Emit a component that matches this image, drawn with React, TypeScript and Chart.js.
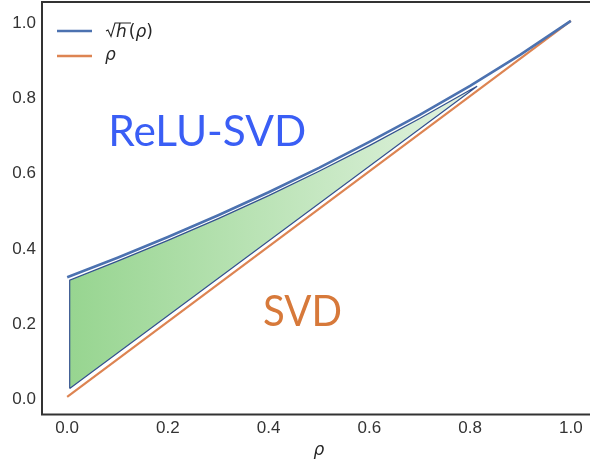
import React, { useEffect, useRef } from 'react';
import { Chart, registerables } from 'chart.js';

Chart.register(...registerables);

// ---- data ----
const rho = [0, 0.1, 0.2, 0.3, 0.4, 0.5, 0.6, 0.7, 0.8, 0.9, 1.0];
const sqrtH = [0.318, 0.370, 0.425, 0.483, 0.544, 0.609, 0.678, 0.750, 0.827, 0.910, 1.0];
const identityX = [0, 1];
const identityY = [0, 1];
const regionX = [0.005, 0.005, 0.1, 0.2, 0.3, 0.4, 0.5, 0.6, 0.7, 0.8, 0.814, 0.005];
const regionY = [0.022, 0.310, 0.361, 0.416, 0.474, 0.535, 0.600, 0.668, 0.740, 0.816, 0.826, 0.022];
const xTicks = [0, 0.2, 0.4, 0.6, 0.8, 1.0];
const yTicks = [0, 0.2, 0.4, 0.6, 0.8, 1.0];

const BLUE = '#4c72b0';
const ORANGE = '#dd8452';
const TEXT = '#262626';
const TICK_FONT = '17px "Liberation Sans"';

const overlay = {
  id: 'overlay',
  afterDraw(chart: any) {
    const { ctx, chartArea: a, scales } = chart;
    const xs = scales.x;
    const ys = scales.y;
    ctx.save();

    // frame
    ctx.strokeStyle = '#333333';
    ctx.lineWidth = 2;
    ctx.strokeRect(a.left, a.top, a.right - a.left, a.bottom - a.top);

    // y tick labels
    ctx.font = TICK_FONT;
    ctx.fillStyle = '#333333';
    ctx.textAlign = 'right';
    ctx.textBaseline = 'middle';
    yTicks.forEach((v) => {
      ctx.fillText(v.toFixed(1), a.left - 6, ys.getPixelForValue(v) + 2.5);
    });
    // x tick labels
    ctx.textAlign = 'center';
    ctx.textBaseline = 'middle';
    xTicks.forEach((v) => {
      ctx.fillText(v.toFixed(1), xs.getPixelForValue(v), a.bottom + 13.5);
    });

    // legend
    ctx.lineWidth = 2.4;
    ctx.strokeStyle = BLUE;
    ctx.beginPath(); ctx.moveTo(57, 31); ctx.lineTo(92, 31); ctx.stroke();
    ctx.strokeStyle = ORANGE;
    ctx.beginPath(); ctx.moveTo(57, 56); ctx.lineTo(92, 56); ctx.stroke();

    ctx.fillStyle = TEXT;
    ctx.strokeStyle = TEXT;
    ctx.textBaseline = 'alphabetic';
    ctx.textAlign = 'left';
    // radical sign
    ctx.lineWidth = 1.1;
    ctx.beginPath();
    ctx.moveTo(106, 31);
    ctx.lineTo(108, 30);
    ctx.lineTo(111, 36.5);
    ctx.lineTo(115, 23);
    ctx.lineTo(131, 23);
    ctx.stroke();
    let x = 116;
    const b1 = 36.5;
    ctx.font = 'italic 17px "DejaVu Sans"';
    ctx.fillText('h', x, b1);
    x += ctx.measureText('h').width + 2;
    ctx.font = '17px "DejaVu Sans"';
    ctx.fillText('(', x, b1);
    x += ctx.measureText('(').width;
    ctx.font = 'italic 17px "DejaVu Sans"';
    ctx.fillText('ρ', x, b1);
    x += ctx.measureText('ρ').width;
    ctx.font = '17px "DejaVu Sans"';
    ctx.fillText(')', x, b1);

    ctx.font = 'italic 17px "DejaVu Sans"';
    ctx.fillText('ρ', 105, 59.5);

    // x axis title
    ctx.textAlign = 'center';
    ctx.fillText('ρ', (a.left + a.right) / 2, 454.5);

    // annotations
    const drawFit = (text: string, dx: number, dy: number, w: number, color: string) => {
      ctx.save();
      ctx.font = '43px Lato';
      ctx.textAlign = 'left';
      ctx.textBaseline = 'alphabetic';
      ctx.fillStyle = color;
      const m = ctx.measureText(text).width;
      ctx.translate(xs.getPixelForValue(dx), ys.getPixelForValue(dy));
      ctx.scale(w / m, 1);
      ctx.fillText(text, 0, 0);
      ctx.restore();
    };
    drawFit('ReLU-SVD', 0.0816, 0.667, 198, '#3a5ef5');
    drawFit('SVD', 0.389, 0.188, 79, '#d7793a');

    ctx.restore();
  },
};

export default function App() {
  const ref = useRef<HTMLCanvasElement | null>(null);

  useEffect(() => {
    if (!ref.current) return;
    const chart = new Chart(ref.current, {
      type: 'scatter',
      data: {
        datasets: [
          {
            label: 'region',
            data: regionX.map((x, i) => ({ x, y: regionY[i] })),
            showLine: true,
            borderColor: '#34518f',
            borderWidth: 1.2,
            pointRadius: 0,
            fill: 'shape',
            backgroundColor: (c: any) => {
              const ch = c.chart;
              if (!ch.chartArea) return '#b5e0ae';
              const xs = ch.scales.x;
              const g = ch.ctx.createLinearGradient(
                xs.getPixelForValue(regionX[0]), 0,
                xs.getPixelForValue(regionX[10]), 0
              );
              g.addColorStop(0, '#97d590');
              g.addColorStop(1, '#e3f3e1');
              return g;
            },
            order: 3,
          } as any,
          {
            label: 'ρ',
            data: identityX.map((x, i) => ({ x, y: identityY[i] })),
            showLine: true,
            borderColor: ORANGE,
            borderWidth: 2.2,
            pointRadius: 0,
            order: 2,
          },
          {
            label: '√h(ρ)',
            data: rho.map((x, i) => ({ x, y: sqrtH[i] })),
            showLine: true,
            borderColor: BLUE,
            borderWidth: 2.6,
            pointRadius: 0,
            order: 1,
          },
        ],
      },
      options: {
        responsive: false,
        animation: false,
        layout: { padding: { top: 2, right: 2, left: 0, bottom: 0 } },
        plugins: { legend: { display: false }, tooltip: { enabled: false } },
        scales: {
          x: {
            type: 'linear',
            min: -0.05,
            max: 1.05,
            afterBuildTicks: (s: any) => { s.ticks = xTicks.map((v) => ({ value: v })); },
            afterFit: (s: any) => { s.height = 49.5; s.paddingLeft = 0; s.paddingRight = 0; },
            ticks: { display: false },
            grid: { display: false, drawTicks: false },
            border: { display: false },
          },
          y: {
            type: 'linear',
            min: -0.047,
            max: 1.05,
            afterBuildTicks: (s: any) => { s.ticks = yTicks.map((v) => ({ value: v })); },
            afterFit: (s: any) => { s.width = 42; s.paddingTop = 0; s.paddingBottom = 0; },
            ticks: { display: false },
            grid: { display: false, drawTicks: false },
            border: { display: false },
          },
        },
      },
      plugins: [overlay],
    });
    return () => chart.destroy();
  }, []);

  return (
    <div style={{ position: 'fixed', left: 0, top: 0, width: 590, height: 464, overflow: 'hidden', background: '#fff' }}>
      <canvas ref={ref} width={598} height={464} style={{ display: 'block', width: 598, height: 464 }} />
    </div>
  );
}
